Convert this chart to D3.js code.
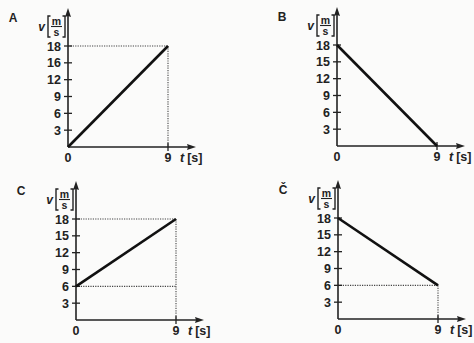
<!DOCTYPE html>
<html><head><meta charset="utf-8">
<script src="https://cdn.jsdelivr.net/npm/d3@7"></script>
<style>
html,body{margin:0;padding:0;background:#fbfbfa;}
svg{display:block;}
text{font-family:"Liberation Sans",Arial,sans-serif;fill:#222;}
</style></head>
<body>
<script>
// ---- data ----
const panelLabels = ["A", "B", "C", "Č"];
const vStart = [0, 18, 6, 18];          // velocity at t = 0
const vEnd = [18, 0, 18, 6];            // velocity at t = 9
const tEnd = 9;
const yTickValues = [3, 6, 9, 12, 15, 18];
const yTickLabels = [
  ["3", "6", "9", "12", "16", "18"],
  ["3", "6", "9", "12", "15", "18"],
  ["3", "6", "9", "12", "15", "18"],
  ["3", "6", "9", "12", "15", "18"]
];
const xTickValues = [0, 9];
const xTickLabels = ["0", "9"];
const hGuides = [[18], [], [18, 6], [6]];   // dotted horizontal guide levels

// ---- layout ----
const W = 474, H = 343;
const origins = [[68, 147], [337, 146], [76, 320], [338, 319]];
const xLen = 100, yLen = 101;

const svg = d3.select("body").append("svg").attr("width", W).attr("height", H);

panelLabels.forEach((lab, i) => {
  const [ox, oy] = origins[i];
  const g = svg.append("g").attr("transform", `translate(${ox},${oy})`);
  const x = d3.scaleLinear().domain([0, tEnd]).range([0, xLen]);
  const y = d3.scaleLinear().domain([0, 18]).range([0, -yLen]);

  // dotted guides
  hGuides[i].forEach(v => {
    g.append("line").attr("x1", 0).attr("x2", x(tEnd)).attr("y1", y(v)).attr("y2", y(v))
      .attr("stroke", "#444").attr("stroke-width", 1.1).attr("stroke-dasharray", "1.2,1.2");
  });
  if (vEnd[i] > 0) {
    g.append("line").attr("x1", x(tEnd)).attr("x2", x(tEnd)).attr("y1", y(vEnd[i])).attr("y2", 0)
      .attr("stroke", "#444").attr("stroke-width", 1.1).attr("stroke-dasharray", "1.2,1.2");
  }

  // axes
  g.append("line").attr("x1", 0).attr("x2", 124).attr("y1", 0).attr("y2", 0)
    .attr("stroke", "#222").attr("stroke-width", 1.6);
  g.append("path").attr("d", "M128,0 L119,-3 L120,0 L119,3 Z").attr("fill", "#222");
  g.append("line").attr("x1", 0).attr("x2", 0).attr("y1", 0).attr("y2", -135)
    .attr("stroke", "#222").attr("stroke-width", 1.6);
  g.append("path").attr("d", "M0,-139 L-3,-130 L0,-131 L3,-130 Z").attr("fill", "#222");

  // y ticks
  yTickValues.forEach((v, k) => {
    g.append("line").attr("x1", -4).attr("x2", 4).attr("y1", y(v)).attr("y2", y(v))
      .attr("stroke", "#222").attr("stroke-width", 1.3);
    g.append("text").attr("x", -7).attr("y", y(v) + 4.5).attr("text-anchor", "end")
      .attr("font-size", 12.5).attr("font-weight", "bold").text(yTickLabels[i][k]);
  });
  // x ticks
  xTickValues.forEach((v, k) => {
    if (v > 0) g.append("line").attr("x1", x(v)).attr("x2", x(v)).attr("y1", -4).attr("y2", 4)
      .attr("stroke", "#222").attr("stroke-width", 1.3);
    g.append("text").attr("x", x(v)).attr("y", 15).attr("text-anchor", "middle")
      .attr("font-size", 12.5).attr("font-weight", "bold").text(xTickLabels[k]);
  });
  // t [s]
  const tl = g.append("text").attr("x", 112).attr("y", 15).attr("font-size", 12.5).attr("font-weight", "bold");
  tl.append("tspan").attr("font-style", "italic").text("t");
  tl.append("tspan").attr("dx", 3).text("[s]");

  // v [m/s]
  const bx = -20, bw = 17, by1 = -131, by2 = -110;
  g.append("text").attr("x", bx - 3).attr("y", -116).attr("text-anchor", "end")
    .attr("font-size", 12).attr("font-weight", "bold").attr("font-style", "italic").text("v");
  g.append("path").attr("d", `M${bx + 2.5},${by1} L${bx},${by1} L${bx},${by2} L${bx + 2.5},${by2}`)
    .attr("fill", "none").attr("stroke", "#222").attr("stroke-width", 1.4);
  g.append("path").attr("d", `M${bx + bw - 2.5},${by1} L${bx + bw},${by1} L${bx + bw},${by2} L${bx + bw - 2.5},${by2}`)
    .attr("fill", "none").attr("stroke", "#222").attr("stroke-width", 1.4);
  g.append("line").attr("x1", bx + 3).attr("x2", bx + bw - 3).attr("y1", -120.5).attr("y2", -120.5)
    .attr("stroke", "#222").attr("stroke-width", 1.1);
  g.append("text").attr("x", bx + bw / 2).attr("y", -122.5).attr("text-anchor", "middle")
    .attr("font-size", 10.5).attr("font-weight", "bold").text("m");
  g.append("text").attr("x", bx + bw / 2).attr("y", -111.5).attr("text-anchor", "middle")
    .attr("font-size", 10.5).attr("font-weight", "bold").text("s");

  // panel letter
  g.append("text").attr("x", -55).attr("y", -125).attr("text-anchor", "middle")
    .attr("font-size", 12).attr("font-weight", "bold").text(lab);

  // data line
  const line = d3.line().x(d => x(d[0])).y(d => y(d[1]));
  g.append("path").datum([[0, vStart[i]], [tEnd, vEnd[i]]]).attr("d", line)
    .attr("fill", "none").attr("stroke", "#111").attr("stroke-width", 2.6);
});
</script>
</body></html>
